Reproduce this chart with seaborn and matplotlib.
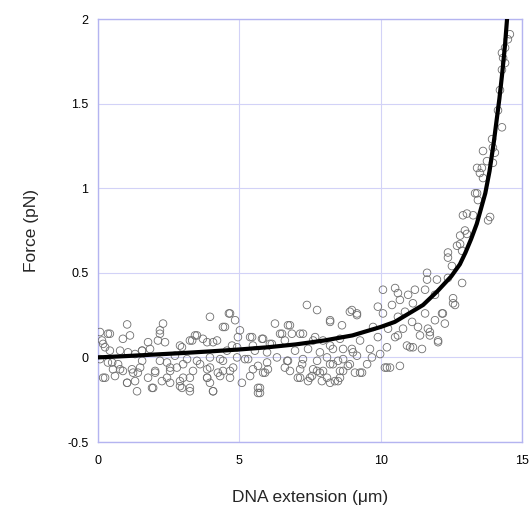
import matplotlib
matplotlib.use('Agg')
import matplotlib.pyplot as plt
import pandas as pd
import seaborn as sns

ext_um = [
    1.03, 0.07, 0.35, 1.13, 0.88, 0.14, 2.19, 2.30, 2.12, 2.37, 1.77, 0.25, 0.42, 1.06,
    1.56, 1.84, 1.31, 0.07, 0.35, 0.71, 1.56, 2.19, 2.44, 0.53, 0.88, 1.20, 1.41, 2.02,
    2.55, 0.18, 1.03, 1.31, 1.77, 2.26, 2.55, 1.38, 1.95, 0.60, 0.78,
    3.96, 4.63, 4.85, 4.42, 5.02, 3.43, 3.71, 3.33, 4.07, 4.95, 2.97, 4.74, 2.72, 3.15,
    3.50, 3.96, 4.32, 4.92, 5.20, 2.79, 3.36, 3.86, 4.42, 4.78, 3.01, 3.86, 4.32, 4.67,
    2.90, 3.25, 3.96, 4.07, 5.09, 5.73, 5.66,
    7.39, 7.75, 6.26, 6.72, 5.38, 5.80, 6.44, 6.86, 7.25, 7.68, 6.15, 6.61, 5.55, 5.98,
    6.97, 7.43, 7.85, 5.31, 6.33, 6.72, 7.25, 7.75, 5.66, 6.01, 6.61, 7.15, 7.75, 5.38,
    5.91, 7.15, 7.43, 7.57, 5.66, 5.73,
    10.08, 10.51, 8.98, 9.16, 9.90, 10.40, 10.08, 8.21, 8.63, 9.73, 10.26, 7.96, 8.56,
    9.27, 9.90, 10.51, 8.31, 8.98, 9.62, 10.22, 8.10, 8.67, 9.16, 9.69, 9.98, 8.31, 8.84,
    9.52, 10.15, 10.33, 7.96, 8.56, 9.27, 8.10, 8.49, 8.21,
    12.91, 12.81, 12.70, 12.38, 12.38, 12.88, 12.52, 12.88, 11.64, 11.64, 11.99, 12.38,
    11.21, 11.57, 10.97, 10.61, 10.68, 11.92, 12.56, 12.63, 11.14, 10.86, 10.61, 11.57,
    12.17, 11.92, 12.27, 11.11, 11.32, 11.67, 10.79, 11.74, 12.03, 11.39, 10.61, 10.93,
    11.14, 11.46,
    14.40, 14.33, 14.40, 14.29, 14.22, 14.15, 14.29, 13.94, 13.97, 13.62, 14.04, 13.76,
    13.41, 13.58, 13.97, 13.51, 13.62, 13.34, 13.44, 13.05, 13.27, 13.87, 14.57, 14.50,
    14.29, 12.81, 13.05, 13.80, 13.41, 12.98,
    12.56, 12.20, 12.03, 11.74, 11.04, 10.68, 10.22, 9.34,
    0.42, 2.19, 0.18, 2.90, 3.25, 3.50, 3.86, 4.21, 1.56, 0.50, 0.78, 1.49, 2.02, 2.55,
    3.01, 3.61, 3.96, 4.24, 1.24, 0.25, 2.44, 2.90, 3.25, 3.86, 1.03, 1.91, 2.97, 3.25,
    4.07,
    8.21, 8.91, 9.16, 4.49, 4.67, 6.79, 7.15, 5.45, 5.84, 6.51, 5.48, 6.08, 7.61, 8.21,
    8.67, 4.56, 4.92, 9.02, 4.42, 5.98, 6.69, 7.22, 8.21, 8.49, 8.91, 4.67, 5.48, 5.84,
    6.79, 7.61, 7.85, 8.67, 9.09, 7.50, 7.92, 8.38, 8.56, 7.07,
]
force_pn = [
    0.195, 0.15, 0.14, 0.13, 0.11, 0.10, 0.14, 0.20, 0.10, 0.09, 0.09, 0.06, 0.04, 0.03,
    0.04, 0.05, 0.02, -0.01, -0.03, -0.04, -0.02, -0.02, -0.03, -0.07, -0.08, -0.07, -0.09, -0.09,
    -0.08, -0.12, -0.15, -0.14, -0.12, -0.14, -0.15, -0.20, -0.18, -0.11, 0.04,
    0.24, 0.26, 0.22, 0.18, 0.16, 0.13, 0.11, 0.10, 0.09, 0.12, 0.06, 0.07, 0.01, -0.01,
    -0.02, 0.0, -0.01, 0.0, -0.01, -0.06, -0.08, -0.07, -0.08, -0.06, -0.12, -0.12, -0.11, -0.12,
    -0.17, -0.18, -0.15, -0.20, -0.15, -0.18, -0.21,
    0.31, 0.28, 0.20, 0.19, 0.12, 0.11, 0.14, 0.14, 0.14, 0.12, 0.08, 0.10, 0.04, 0.03,
    0.04, 0.05, 0.03, -0.01, 0.0, -0.02, -0.01, -0.02, -0.05, -0.07, -0.06, -0.07, -0.08, -0.11,
    -0.09, -0.12, -0.14, -0.11, -0.18, -0.21,
    0.40, 0.41, 0.28, 0.26, 0.30, 0.31, 0.26, 0.22, 0.19, 0.18, 0.17, 0.10, 0.11,
    0.10, 0.12, 0.12, 0.05, 0.05, 0.05, 0.06, 0.0, -0.01, 0.01, 0.0, 0.02, -0.04, -0.05,
    -0.04, -0.06, -0.06, -0.08, -0.08, -0.09, -0.12, -0.14, -0.15,
    0.84, 0.72, 0.66, 0.62, 0.59, 0.63, 0.54, 0.44, 0.50, 0.46, 0.46, 0.47,
    0.40, 0.40, 0.37, 0.38, 0.34, 0.37, 0.35, 0.31, 0.32, 0.27, 0.24, 0.26,
    0.26, 0.22, 0.20, 0.21, 0.18, 0.17, 0.17, 0.13, 0.10, 0.13, 0.13, 0.07,
    0.06, 0.05,
    1.83, 1.77, 1.74, 1.70, 1.58, 1.46, 1.36, 1.29, 1.24, 1.22, 1.21, 1.16,
    1.12, 1.12, 1.15, 1.09, 1.06, 0.97, 0.93, 0.85, 0.84, 0.83, 1.91, 1.88,
    1.80, 0.67, 0.73, 0.81, 0.97, 0.75,
    0.32, 0.26, 0.09, 0.15, 0.06, -0.05, -0.06, -0.09,
    0.14, 0.16, 0.08, 0.07, 0.10, 0.13, 0.09, 0.10, 0.04, -0.03, -0.07, -0.06, -0.08, -0.06,
    -0.04, -0.04, -0.06, -0.09, -0.09, -0.12, -0.12, -0.14, -0.12, -0.12, -0.15, -0.18, -0.18, -0.20,
    -0.20,
    0.21, 0.27, 0.25, 0.18, 0.26, 0.19, 0.14, 0.12, 0.11, 0.14, 0.07, 0.08, 0.10, 0.07,
    0.05, 0.04, 0.06, 0.03, -0.02, -0.03, -0.02, -0.04, -0.04, -0.02, -0.04, -0.08, -0.07, -0.09,
    -0.08, -0.07, -0.09, -0.08, -0.09, -0.12, -0.14, -0.14, -0.12, -0.12,
]

# fitted curve
fit_ext = [0, 1, 2, 3, 4, 5, 6, 7, 8, 9, 10, 10.5, 11, 11.5, 12, 12.5, 12.8, 13.0,
           13.2, 13.4, 13.55, 13.7, 13.85, 14.0, 14.1, 14.2, 14.3, 14.4, 14.47]
fit_force = [0, 0.008, 0.017, 0.026, 0.036, 0.047, 0.06, 0.077, 0.10, 0.13, 0.18,
             0.21, 0.26, 0.31, 0.39, 0.48, 0.55, 0.62, 0.70, 0.79, 0.88, 0.97,
             1.10, 1.27, 1.40, 1.53, 1.68, 1.85, 2.0]

xticks = [0, 5, 10, 15]
yticks = [-0.5, 0, 0.5, 1, 1.5, 2]
ytick_labels = ['-0.5', '0', '0.5', '1', '1.5', '2']

df = pd.DataFrame({'ext': ext_um, 'force': force_pn})
fit = pd.DataFrame({'ext': fit_ext, 'force': fit_force})

sns.set_style('white')
plt.rcParams['font.family'] = ['Liberation Sans', 'DejaVu Sans']

fig = plt.figure(figsize=(5.31, 5.15), dpi=100)
ax = fig.add_axes([0.1846, 0.1417, 0.7985, 0.8214])

sns.scatterplot(data=df, x='ext', y='force', ax=ax, marker='o', s=30,
                facecolor='none', edgecolor='#6e6e6e', linewidth=0.6, zorder=3)
sns.lineplot(data=fit, x='ext', y='force', ax=ax, color='black', linewidth=3,
             zorder=4)

ax.set_xlim(0, 15)
ax.set_ylim(-0.5, 2)
ax.set_xticks(xticks)
ax.set_yticks(yticks)
ax.set_yticklabels(ytick_labels)
ax.tick_params(length=0, labelsize=9, colors='black')
ax.tick_params(axis='x', pad=9)
ax.tick_params(axis='y', pad=7)
ax.grid(True, color='#d2d2f7', linewidth=0.8, linestyle='-')
ax.set_axisbelow(True)
for s in ax.spines.values():
    s.set_color('#b4b4f0')
    s.set_linewidth(1)

ax.set_xlabel('DNA extension (μm)', fontsize=12.5, labelpad=17)
ax.set_ylabel('Force (pN)', fontsize=12.5, labelpad=20)

fig.savefig('out.png', dpi=100)
